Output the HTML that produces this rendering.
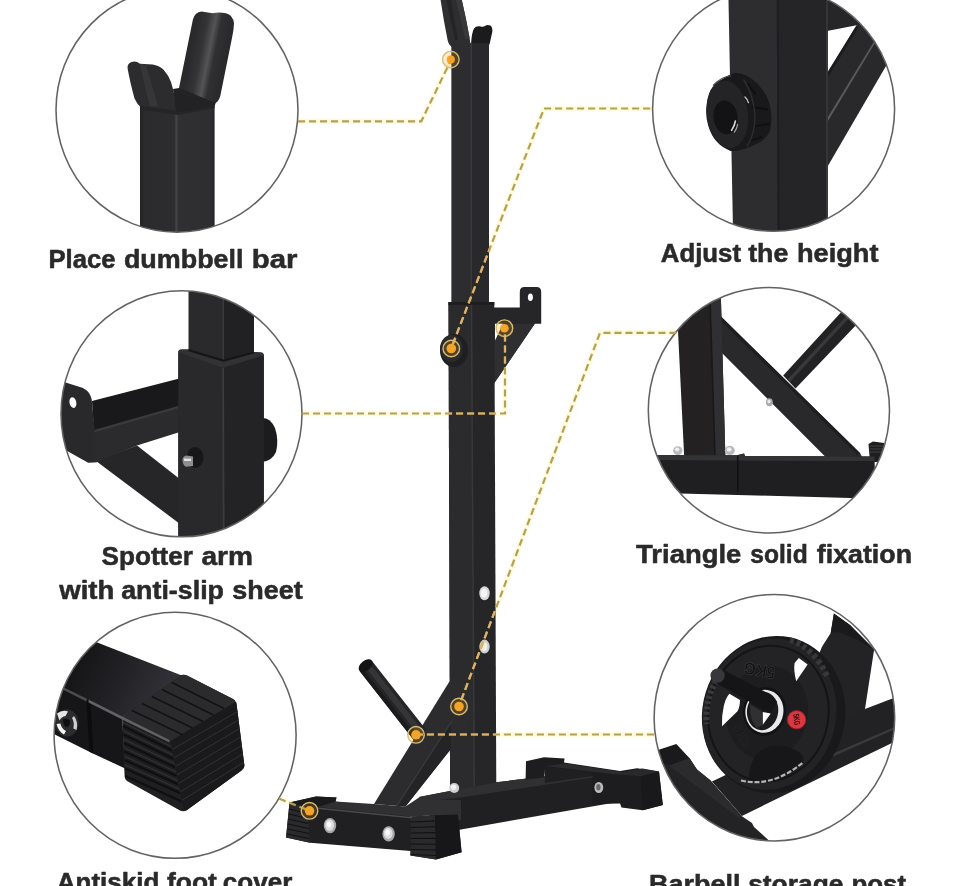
<!DOCTYPE html>
<html lang="en">
<head>
<meta charset="utf-8">
<title>Squat rack features</title>
<style>
html,body{margin:0;padding:0;background:#fff;}
html{width:960px;height:886px;overflow:hidden;}
body{width:960px;height:886px;overflow:hidden;font-family:"Liberation Sans",sans-serif;}
#stage{position:relative;width:960px;height:886px;overflow:hidden;background:#fff;}
svg{position:absolute;left:-20px;top:-20px;display:block;filter:blur(0.6px);}
.lbl{font-family:"Liberation Sans",sans-serif;font-weight:bold;font-size:26.5px;fill:#2a2a2a;stroke:#2a2a2a;stroke-width:0.55;stroke-linejoin:round;}
.ring{fill:none;stroke:#626262;stroke-width:1.55;}
.dash{fill:none;stroke:#b3a056;stroke-width:2.2;stroke-dasharray:7.1 3.9;}
.glow{fill:none;stroke:#fffbe0;stroke-width:5.5;mix-blend-mode:multiply;}
</style>
</head>
<body>
<div id="stage">
<svg width="1000" height="926" viewBox="-20 -20 1000 926">
<defs>
<clipPath id="c1"><ellipse cx="177" cy="110" rx="121" ry="122.2"/></clipPath>
<clipPath id="c2"><ellipse cx="773.6" cy="109" rx="121" ry="122.3"/></clipPath>
<clipPath id="c3"><ellipse cx="181.5" cy="413.8" rx="120.5" ry="123"/></clipPath>
<clipPath id="c4"><ellipse cx="768.9" cy="410.2" rx="120.6" ry="122.8"/></clipPath>
<clipPath id="c5"><ellipse cx="175.1" cy="735.3" rx="121" ry="123"/></clipPath>
<clipPath id="c6"><ellipse cx="774.4" cy="717.7" rx="120.3" ry="123.2"/></clipPath>
<clipPath id="darkclip"><rect x="451.6" y="43.5" width="37.4" height="260"/><path d="M448.5 302 L494.3 302 L496.3 792 L450.1 792 Z"/><path d="M374 804 L449.4 681.5 L473 683.5 L473 715 L450.2 749.5 L405.5 806.5 Z"/><path d="M494 323.8 H534.8 L494 383.5 Z"/><ellipse cx="454" cy="350.5" rx="14" ry="16.5"/></clipPath>
</defs>
<rect x="-20" y="-20" width="1000" height="926" fill="#fff"/>

<!-- ================= CENTER RACK ================= -->
<g id="rack">
<!-- top hooks -->
<path d="M438.4 -15 L458.6 -15 L461.8 0 Q466 18 469.6 38 L470.5 44 L452 47 Q448.5 45 447.6 40 Q443.5 20 440.6 0 L438.4 -15 Z" fill="#2e2e30"/>
<path d="M444.3 -15 L448.8 -15 L451 0 Q454 20 458 39 L455.5 41 Q450 20 446.5 0 Z" fill="#242426"/>
<path d="M453 -15 L458.6 -15 L461.8 0 Q466 18 469.6 38 L465 39.5 Q460.5 18 456 0 Z" fill="#38383a"/>
<path d="M471 45 Q471.5 33 474 28.5 Q476 25.6 480 26.3 Q483 27.5 485 26 Q487.5 24 490.3 25.6 Q492.8 27.5 492.3 32 L489.6 44 L488.5 46 Z" fill="#1b1b1d"/>
<!-- upper post -->
<rect x="451.6" y="43.5" width="37.4" height="260" fill="#2a2a2d"/>
<rect x="451.6" y="43.5" width="19.6" height="260" fill="#2d2d30"/>
<rect x="470.6" y="43.5" width="1.6" height="260" fill="#3b3b3e"/>
<rect x="472.2" y="43.5" width="16.8" height="260" fill="#29292c"/>
<!-- spotter arm (side) -->
<path d="M519.8 308 V292 Q519.8 287 524.5 287 H536.5 Q541.2 287 541.2 292 V323.8 H534.8 L494 383.5 V307.4 H519.8 Z" fill="#262628"/>
<path d="M494 323.8 H534.8 L494 383.5 Z" fill="#2f2f31"/>
<path d="M495 323.8 H503 L495 340.5 Z" fill="#fff"/>
<ellipse cx="530.4" cy="297.2" rx="2.5" ry="3.8" fill="#fff"/>
<!-- lower post / sleeve -->
<path d="M448.5 302 L494.3 302 L496.3 792 L450.1 792 Z" fill="#262629"/>
<path d="M448.5 302 L471.4 302 L474.2 792 L450.1 792 Z" fill="#2b2b2e"/>
<path d="M470.7 302 L472.2 302 L475 792 L473.5 792 Z" fill="#38383b"/>
<path d="M448.5 302 L494.3 302 L494.3 305 L448.5 305 Z" fill="#1e1e20"/>
<!-- knob -->
<ellipse cx="454" cy="350.5" rx="14" ry="16.5" fill="#1f1f21"/>
<ellipse cx="451.5" cy="348.5" rx="11.5" ry="13.5" fill="#2a2a2c"/>
<!-- post bolts -->
<ellipse cx="484.5" cy="593.2" rx="5.2" ry="7" fill="#d8d8d8"/>
<ellipse cx="484" cy="593.2" rx="3.2" ry="4.6" fill="#f4f4f4"/>
<ellipse cx="484.5" cy="646.6" rx="5.2" ry="7" fill="#d0d0d0"/>
<ellipse cx="484" cy="646.6" rx="3.2" ry="4.6" fill="#f0f0f0"/>
<!-- long base bar -->
<path d="M419 797 L450 791 L496.3 782.3 L592.5 770.6 L612 772 L612 803 L461 829.5 L440 833 Z" fill="#202022"/>
<path d="M419 797 L450 791 L496.3 782.3 L592.5 770.6 L612 771.5 L612 774.5 L461 797.5 L430 801 Z" fill="#303032"/>
<!-- back cross bar + caps -->
<path d="M543.8 765.5 L565 763.8 L620 772 L620 782 L592.5 776 L545 783 Z" fill="#1f1f21"/>
<path d="M526 761.2 L544 757.2 L564.6 758.6 L564 762.5 L620 771 L637 768.2 L659 771.5 L662.8 805 L642.8 810.2 L621.5 807.5 L620 803.5 L592.5 804 L592.5 773 L545 766.5 L543.8 777.5 L525.6 779.5 Z" fill="#1d1d1f"/>
<path d="M545 766 L565 763.6 L620 771.4 L640 776 L612 774 Z" fill="#2c2c2e"/>
<path d="M620 772.5 L642.5 768.6 L659 771.5 L640.5 776.5 Z" fill="#29292b"/>
<path d="M640.5 776.5 L659 771.5 L662.8 805 L642.8 810.2 Z" fill="#19191b"/>
<ellipse cx="598.8" cy="787.5" rx="4.4" ry="5.6" fill="#bdbdbd"/>
<ellipse cx="598.4" cy="787.2" rx="2.2" ry="3.2" fill="#6a6a6a"/>
<!-- diagonal strut -->
<path d="M374 804 L449.4 681.5 L473 683.5 L473 715 L450.2 749.5 L405.5 806.5 Z" fill="#2c2c2e"/>
<path d="M396.5 805.5 L451 722 L451 749 L405.5 806.5 Z" fill="#242426"/>
<path d="M396 805.8 L451.4 720.6 L452.2 721.8 L397.4 806 Z" fill="#3a3a3c"/>
<!-- peg -->
<path d="M359.4 670.7 L372 660.9 L426.3 730.1 L413.7 739.9 Z" fill="#252527"/>
<path d="M365 666.5 L369.5 663 L423.6 732 L419 735.5 Z" fill="#353538"/>
<path d="M359.4 670.7 L362.5 668.3 L416.8 737.5 L413.7 739.9 Z" fill="#1a1a1c"/>
<ellipse cx="365.7" cy="665.6" rx="8" ry="5" transform="rotate(-38 365.7 665.6)" fill="#141416"/>
<!-- post base bolt -->
<ellipse cx="454.2" cy="788" rx="5" ry="5" fill="#cfcfcf"/>
<ellipse cx="453.6" cy="787.2" rx="2.6" ry="2.6" fill="#f3f3f3"/>
<!-- front cross bar -->
<path d="M289.5 802.5 L316 796.5 L336.5 797.5 L335.5 801.5 L412 816.5 L435 815.2 L457.9 814.4 L461.6 852.2 L436 859.5 L410.5 855.5 L410.5 851 L310 842.8 L286 837.5 Z" fill="#202022"/>
<path d="M289.5 802.5 L316 796.5 L336.5 797.5 L335.5 801.5 L318 807 Z" fill="#1a1a1c"/>
<path d="M318 807 L335.5 801.5 L374 804 L405.5 806.5 L419 797.5 L440 800 L461 800 L461 820.5 L435 815.2 L412 816.5 Z" fill="#303032"/>
<path d="M289.5 803 L307 807.5 L310 842.8 L286 837.5 Z" fill="#2a2a2c"/>
<path d="M411 816.5 L435 815.2 L436 859.5 L410.5 855.5 Z" fill="#2a2a2c"/>
<path d="M435 815.2 L457.9 814.4 L461.6 852.2 L436 859.5 Z" fill="#171719"/>
<ellipse cx="330" cy="825.6" rx="6.2" ry="7.6" fill="#a8a8aa"/>
<ellipse cx="329.6" cy="825.2" rx="4.4" ry="5.6" fill="#dedede"/>
<ellipse cx="329" cy="824.4" rx="2.2" ry="3" fill="#fafafa"/>
<ellipse cx="388.6" cy="833.8" rx="6.2" ry="7.6" fill="#a8a8aa"/>
<ellipse cx="388.2" cy="833.4" rx="4.4" ry="5.6" fill="#dedede"/>
<ellipse cx="387.6" cy="832.6" rx="2.2" ry="3" fill="#fafafa"/>
<g stroke="#111113" stroke-width="1.1" fill="none">
<path d="M289 809 L307.4 813.5 M288.6 814 L307.8 818.5 M288.2 819 L308.2 823.5 M287.8 824 L308.6 828.5 M287.4 829 L309 833.5 M287 834 L309.4 838.5"/>
<path d="M411 822 L435.2 821 M411 827.5 L435.4 826.8 M410.9 833 L435.5 832.6 M410.8 838.5 L435.6 838.4 M410.7 844 L435.8 844.2 M410.6 849.5 L435.9 850 M410.6 854.5 L436 855.5"/>
</g>
<path d="M318 807.6 L412 817 L412 818.4 L318 809 Z" fill="#4a4a4c"/>

</g>

<!-- ================= CIRCLE 1 ================= -->
<g id="g1" clip-path="url(#c1)">
<defs>
<linearGradient id="c1post" x1="0" x2="1" y1="0" y2="0">
<stop offset="0" stop-color="#232325"/><stop offset="0.06" stop-color="#2b2b2d"/><stop offset="0.46" stop-color="#2d2d2f"/><stop offset="0.485" stop-color="#454547"/><stop offset="0.52" stop-color="#303032"/><stop offset="0.95" stop-color="#2e2e30"/><stop offset="1" stop-color="#242426"/>
</linearGradient>
<linearGradient id="c1tall" gradientUnits="userSpaceOnUse" x1="190" y1="55" x2="226" y2="62">
<stop offset="0" stop-color="#2a2a2c"/><stop offset="0.28" stop-color="#343437"/><stop offset="0.5" stop-color="#545457"/><stop offset="0.66" stop-color="#303032"/><stop offset="1" stop-color="#29292b"/>
</linearGradient>
</defs>
<!-- post -->
<rect x="140" y="100" width="74.6" height="140" fill="url(#c1post)"/>
<!-- tall prong -->
<path d="M192.9 19.5 Q195 12.2 201.5 11.6 L212.7 13.2 Q219 11.8 225.9 13.2 Q233 14.5 234 23.5 Q233.8 30 232 38 L220.4 95.5 Q219 101 215.7 103 L178.6 110.8 L179 88 Z" fill="url(#c1tall)"/>
<!-- short prong -->
<path d="M127.6 68.5 Q127 63.5 131.5 62 Q136.5 60.6 139.8 63.8 L152.6 64.6 Q159 65.5 163.6 69.8 Q168.6 75.5 171 82 Q173.6 90 175 99 L176.4 110.5 L141 107.6 Q137 104 134.5 98.5 Q130 82 127.6 68.5 Z" fill="#2c2c2e"/>
<path d="M139.8 63.8 L146 65 Q152 85 158 106 L150 106.5 Q144 84 139.8 63.8 Z" fill="#363638"/>
<!-- saddle shadows -->
<path d="M173 89 L179 88 L215.7 103 L214.6 106 L178 112.5 L176 110.5 Z" fill="#222224"/>
<path d="M140 106 L176 110.5 L178 112.5 L214.6 105 L214.6 108 L178 115 L140 109.5 Z" fill="#252527"/>

</g>
<ellipse class="ring" cx="177" cy="110" rx="121" ry="122.2"/>

<!-- ================= CIRCLE 2 ================= -->
<g id="g2" clip-path="url(#c2)">
<!-- top bar + diagonal braces -->
<path d="M826 -5 H900 V45 L856.6 25.3 L827 31 Z" fill="#262628"/>
<path d="M856.6 25.3 L900 25 L900 42 L827 167.5 L827 74 Z" fill="#29292b"/>
<path d="M873.8 41.8 L875 43 L828 121 L827 118.5 Z" fill="#5a5a5c"/>
<path d="M856.6 25.3 L858.5 27.5 L828 77 L827 73 Z" fill="#1c1c1e"/>
<!-- post -->
<path d="M728.4 -5 L827.6 -5 L827.6 240 L733.2 240 Z" fill="#2d2d2f"/>
<path d="M777.6 -5 L827.6 -5 L827.6 240 L778.6 240 Z" fill="#252528"/>
<path d="M776.8 -5 L778.6 -5 L779.4 240 L777.6 240 Z" fill="#1d1d20"/>
<path d="M826.2 -5 L827.8 -5 L827.8 240 L826.2 240 Z" fill="#3a3a3c"/>
<!-- knob -->
<path d="M734.7 73 Q741 72.6 746.9 75.7 Q753 79 757.7 83.9 Q763.5 90 767.2 97.4 Q770.8 105.5 771.3 115 Q771.8 124 769.9 131.3 Q766.5 138 760.4 142.1 Q753 146.5 744.2 148.9 Q737 151.6 730.6 150.9 Q722.5 148 717.1 142.1 Q711 135 708.3 125.9 Q705.6 117 706.3 108.2 Q707 98 710.3 90.6 Q715 82.6 722.5 79.1 Q728.5 74.5 734.7 73 Z" fill="#19191b"/>
<ellipse cx="727.4" cy="114.4" rx="20.6" ry="34" transform="rotate(-7 727.4 114.4)" fill="#242426"/>
<ellipse cx="725.6" cy="117.4" rx="12" ry="17" transform="rotate(-7 725.6 117.4)" fill="#131315"/>
<path d="M731.6 130.4 Q734.6 126 735.4 121" fill="none" stroke="#d8d8d8" stroke-width="1.6" stroke-linecap="round"/>
<path d="M734.4 132.2 Q737 128.4 737.6 124.4" fill="none" stroke="#a0a0a2" stroke-width="1.2" stroke-linecap="round"/>
<path d="M745 97 Q747.6 99.4 748.4 102.6" fill="none" stroke="#bdbdbf" stroke-width="1.4" stroke-linecap="round"/>
<path d="M713 85.5 Q721 77 731 75.6" fill="none" stroke="#4c4c4e" stroke-width="1.2"/>
<path d="M747 83 L756 95 M751.5 107 L768 109.5 M753.6 126.5 L769.5 123.5 M749.5 141 L762 137" stroke="#0f0f11" stroke-width="1.8" fill="none"/>
<path d="M743.5 79.5 Q753.5 94 755 116 Q755 134 747 146.5" fill="none" stroke="#2e2e30" stroke-width="1.4"/>

</g>
<ellipse class="ring" cx="773.6" cy="109" rx="121" ry="122.3"/>

<!-- ================= CIRCLE 3 ================= -->
<g id="g3" clip-path="url(#c3)">
<!-- knob behind sleeve (right) -->
<path d="M262 418 Q270 417 275 428 Q279 440 276 452 Q272 461 262 462 Z" fill="#1c1c1e"/>
<!-- gusset strut -->
<path d="M96 461 L137 445.6 L178.8 478.2 L180 524 L100 464 Z" fill="#262628"/>
<!-- arm: inner channel (dark) -->
<path d="M92 400.9 L179.4 378.4 L215 396 L94 431 Z" fill="#19191b"/>
<!-- arm: front face -->
<path d="M93 430.8 L215 396 L215 424 L179 432.3 L137 445.6 L96 462.6 L93 462 Z" fill="#2b2b2d"/>
<path d="M93 430.2 L215 395.4 L215 397.8 L93 432.8 Z" fill="#3a3a3c"/>
<!-- end plate -->
<path d="M58 380 L63.2 381.8 L82.3 387.7 Q90 391 91.6 399 L94.4 426 L94.4 462.6 L88.2 462.8 L60 447 Z" fill="#29292b"/>
<ellipse cx="72.9" cy="402.6" rx="3.4" ry="5.4" transform="rotate(-12 72.9 402.6)" fill="#fff"/>
<!-- sleeve -->
<path d="M178.3 352.5 Q178.3 349.6 181.2 349.6 L189 349.6 L223.4 360 L254 352 L261 352.4 Q263.8 352.6 263.8 355.5 L263.8 545 L178.3 545 Z" fill="#262628"/>
<path d="M178.3 352.5 Q178.3 349.6 181.2 349.6 L189 349.6 L223.4 360 L254 352 L261 352.4 Q263.8 352.6 263.8 355.5 L223.1 368 Z" fill="#323234"/>
<path d="M178.3 352.8 L223.1 368 L223.1 545 L178.3 545 Z" fill="#29292b"/>
<path d="M223.1 368 L263.8 355.5 L263.8 545 L223.1 545 Z" fill="#232325"/>
<path d="M222.2 368 L224 368 L224.6 545 L222.8 545 Z" fill="#3c3c3e"/>
<!-- upper post -->
<path d="M188.5 285 L254 285 L254 352.4 L223.4 360.6 L188.5 350 Z" fill="#2a2a2c"/>
<path d="M223.4 285 L254 285 L254 352.4 L223.4 360.6 Z" fill="#212123"/>
<path d="M222.4 285 L224 285 L224 360.4 L222.4 360 Z" fill="#39393b"/>
<path d="M188.5 349 L223.4 359.6 L254 351.4 L254 353.4 L223.4 361.8 L188.5 351.2 Z" fill="#151517"/>
<!-- white triangle hole is simply background; cover sleeve overlap -->
<!-- bolt -->
<ellipse cx="195" cy="457.5" rx="8.4" ry="10.6" fill="#171719"/>
<path d="M182.5 459.5 Q183 456 186.5 455.6 L193 456.4 L193 466 L186 466.8 Q182.4 465 182.5 459.5 Z" fill="#8f8f91"/>
<path d="M184 458.4 L191 458.8 L191 461 L184 461 Z" fill="#e3e3e3"/>

</g>
<ellipse class="ring" cx="181.5" cy="413.8" rx="120.5" ry="123"/>

<!-- ================= CIRCLE 4 ================= -->
<g id="g4" clip-path="url(#c4)">
<!-- peg going upper right -->
<path d="M783.2 375.4 L845 308 L858.5 322.5 L795.5 388.6 Z" fill="#222224"/>
<path d="M787.5 379.5 L849 313 L851.5 315.5 L790 382 Z" fill="#38383a"/>
<!-- foot cap right -->
<path d="M868.5 444 L873 441.5 L884 443 L886 462 L870 462 Z" fill="#1e1e20"/>
<path d="M870 446 H884 M870 449 H884.5 M870 452 H885" stroke="#4a4a4c" stroke-width="0.8"/>
<!-- diagonal strut -->
<path d="M706 296 L713.6 309.3 L860.2 453.2 L862.6 458 L826.6 458 L718 349 L706 345 Z" fill="#29292b"/>
<path d="M713.6 309.3 L860.2 453.2 L857.6 455 L711.8 312 Z" fill="#1e1e20"/>
<!-- post -->
<path d="M675.5 280 L720.4 280 L725.4 457 L684.2 457 Z" fill="#242122"/>
<path d="M709.6 280 L720.4 280 L725.4 457 L715.2 457 Z" fill="#303032"/>
<path d="M708.6 280 L710.2 280 L715.8 457 L714.2 457 Z" fill="#19191b"/>
<!-- bolts -->
<ellipse cx="677.8" cy="450.6" rx="4.6" ry="4.4" fill="#b9b9bb"/>
<ellipse cx="677.2" cy="449.6" rx="2.2" ry="2" fill="#f0f0f0"/>
<ellipse cx="729.8" cy="450.4" rx="5" ry="4.6" fill="#b9b9bb"/>
<ellipse cx="729.2" cy="449.4" rx="2.4" ry="2.2" fill="#f0f0f0"/>
<ellipse cx="769.4" cy="402.2" rx="3.4" ry="4" fill="#a9a9ab"/>
<ellipse cx="769" cy="401.6" rx="1.6" ry="2" fill="#e8e8e8"/>
<!-- base bar -->
<path d="M640 455 L737 455.2 L744 453.4 L745 456 L874.5 456.5 L875.5 497.5 L851 498 L680 493.5 L640 493 Z" fill="#1f1f21"/>
<path d="M640 455 L737 455.2 L744 453.4 L745 456 L874.5 456.5 L874.6 461 L737 460.6 L640 460 Z" fill="#333335"/>
<path d="M737 455.2 L738.4 455.2 L738.4 492 L737 492 Z" fill="#111113"/>

</g>
<ellipse class="ring" cx="768.9" cy="410.2" rx="120.6" ry="122.8"/>

<!-- ================= CIRCLE 5 ================= -->
<g id="g5" clip-path="url(#c5)">
<defs>
<linearGradient id="c5top" gradientUnits="userSpaceOnUse" x1="80" y1="660" x2="170" y2="705">
<stop offset="0" stop-color="#161618"/><stop offset="0.5" stop-color="#242428"/><stop offset="1" stop-color="#33333a"/>
</linearGradient>
</defs>
<!-- bar top face -->
<path d="M40 640 L97.2 642.6 L183.8 676.3 L122.2 717.4 L57.6 685.1 L40 690 Z" fill="url(#c5top)"/>
<!-- bar front face -->
<path d="M40 676 L57.6 685.1 L122.2 717.4 L125.1 768.5 L92.9 753.4 L56.8 735.4 L40 727 Z" fill="#161618"/>
<path d="M86.5 699 L90.5 701 L93.4 753.6 L89.4 751.8 Z" fill="#0c0c0e"/>
<path d="M40 676 L57.6 684.4 L86.5 698.6 L86.5 701.4 L57.6 687 L40 679 Z" fill="#4c4c4e"/>
<!-- bolt -->
<ellipse cx="67" cy="723" rx="11.6" ry="13.6" fill="#2c2c2e"/>
<path d="M57 713.5 Q62 709.6 68 711.4 L65.5 716 Q61.5 716.5 59.5 720.5 Z" fill="#e6e6e6"/>
<path d="M74 716 Q78.4 722 76.6 730 L73.4 728.4 Q74.6 722 72 718 Z" fill="#cfcfcf"/>
<path d="M56.6 724 Q58 731 64 734.6 L66 731 Q61.5 728.6 60.4 723.4 Z" fill="#f4f4f4"/>
<path d="M63 719.5 Q67 717.6 70 720.6 Q70.6 725 67 727.6 Q63 726 63 719.5 Z" fill="#0e0e10"/>
<!-- cap -->
<path d="M122.2 717.4 L181 675.2 Q183.8 674 187 675.6 L233 699 Q236.4 701 236.6 704.5 L244.4 765.5 Q244.6 768.5 241.5 770.5 L187 810 Q183.5 812.3 180 810.5 L127 781 Q124.8 779.5 124.6 776.5 Z" fill="#1f1f21"/>
<path d="M122.2 717.4 L181 675.2 Q183.8 674 187 675.6 L233 699 Q236.4 701 234 703.5 L172 741.5 Q170.4 742 168.5 741 Z" fill="#2b2b2d"/>
<path d="M170.6 740.9 L234.6 702.4 Q236.4 701.5 236.6 704.5 L244.4 765.5 Q244.6 768.5 241.5 770.5 L187 810 Q184.5 811.5 183.6 809 Z" fill="#1a1a1c"/>
<!-- ribs: top face -->
<g stroke="#121214" stroke-width="1.5" fill="none">
<path d="M132 710.5 L182 734.5 M142 703.5 L192.5 728 M152 696.5 L203 721.5 M162 689.5 L213.5 715 M172 682.5 L224 708.5"/>
</g>
<!-- ribs: left face -->
<g stroke="#0f0f11" stroke-width="2.2" fill="none">
<path d="M123 726 L172 750.5 M123.4 734.5 L173.6 759 M123.8 743 L175.2 767.5 M124.2 751.5 L176.8 776 M124.6 760 L178.4 784.5 M125 768.5 L180 793 M125.4 776 L181.6 801.5"/>
</g>
<g stroke="#38383a" stroke-width="0.9" fill="none">
<path d="M123 722.4 L171.4 746.6 M123.4 730.8 L173 755 M123.8 739.3 L174.6 763.6 M124.2 747.8 L176.2 772 M124.6 756.3 L177.8 780.6 M125 764.8 L179.4 789"/>
</g>
<!-- ribs: right face -->
<g stroke="#333335" stroke-width="1" fill="none">
<path d="M172 749.5 L237.6 711.5 M173.6 758 L238.6 720 M175.2 766.5 L239.6 728.5 M176.8 775 L240.6 737 M178.4 783.5 L241.6 745.5 M180 792 L242.6 754 M181.6 800.5 L243.6 762.5"/>
</g>
<path d="M88.5 699.6 L122.2 716.6 L169.5 740 L169.5 742.6 L122.2 719.4 L88.5 702.4 Z" fill="#626264"/>

</g>
<ellipse class="ring" cx="175.1" cy="735.3" rx="121" ry="123"/>

<!-- ================= CIRCLE 6 ================= -->
<g id="g6" clip-path="url(#c6)">
<!-- frame behind: upright -->
<path d="M833.9 613.6 L850 625 L874.2 649 L865 709 L850 760 L800 700 L822 646.8 L830.7 632.9 Z" fill="#232325"/>
<path d="M833.9 613.6 L850 625 L873.6 650 L858 640 L838 632 L830.7 632.9 Z" fill="#1a1a1c"/>
<!-- long bar (to upper right) -->
<path d="M865 708.9 L900 695.5 L900 739 L741.9 815.9 L711.9 781.6 Z" fill="#222224"/>
<path d="M800 768 L900 724.5 L900 727 L800 771 Z" fill="#3a3a3c"/>
<!-- front bar (upper-left to lower-right) -->
<path d="M650 752 L658.4 750.6 L689.4 758.1 L697 769.5 L710 780 L741.9 816.3 L752 823 L754 827 L768.1 839.7 L775 850 L700 850 L650 790 Z" fill="#232325"/>
<path d="M689.4 758.1 L697 769.5 L710 780 L741.9 816.3 L739 818 L668.8 765.6 Z" fill="#2b2b2d"/>
<!-- foot cap -->
<path d="M655 751 L676.3 744.1 L689.4 758.1 L668.8 765.6 L661 761 Z" fill="#1a1a1c"/>
<!-- plate rim + face -->
<ellipse cx="773.6" cy="714.6" rx="71.4" ry="79" transform="rotate(12 773.6 714.6)" fill="#19191b"/>
<ellipse cx="769.4" cy="714.2" rx="66.6" ry="76" transform="rotate(12 769.4 714.2)" fill="#232325"/>
<ellipse cx="768.4" cy="713.6" rx="60" ry="68" transform="rotate(10 768.4 713.6)" fill="none" stroke="#141416" stroke-width="2"/>
<ellipse cx="767" cy="712.6" rx="41" ry="47" transform="rotate(10 767 712.6)" fill="#1d1d1f"/>
<!-- grip rim highlights -->
<path d="M716 681 Q705 700 706.5 724" fill="none" stroke="#3a3a3c" stroke-width="6" stroke-dasharray="3 2.4"/>
<path d="M790 640 Q815 648 828 678" fill="none" stroke="#38383a" stroke-width="6" stroke-dasharray="4 3"/>
<!-- grip holes -->
<path d="M729.4 693.8 L740 700 Q740 707 737.5 711.3 L722 726.2 Q721.5 716 723.8 706 Q725.6 698 729.4 693.8 Z" fill="#fff"/>
<path d="M798.8 658 L807.6 664.4 L796.2 681.3 Q793.4 670 794.6 663 Z" fill="#fff"/>
<!-- centre ring -->
<ellipse cx="764.6" cy="711.4" rx="21.6" ry="24.4" transform="rotate(8 764.6 711.4)" fill="#121214"/>
<ellipse cx="764.4" cy="711.3" rx="19" ry="21.6" transform="rotate(8 764.4 711.3)" fill="#e9e9eb"/>
<ellipse cx="762.6" cy="711" rx="15.6" ry="19.2" transform="rotate(8 762.6 711)" fill="#1b1b1d"/>
<path d="M762.6 712 L770.8 713.6 L762.6 725 Z" fill="#fff"/>
<path d="M750 704 L762.6 712 L762.6 725 L757 728 Q749 720 750 704 Z" fill="#303032"/>
<!-- peg -->
<path d="M715.2 682.6 L722.4 669.4 L766.5 692.4 L777 701.5 L770.5 713.4 Z" fill="#151517"/>
<circle cx="717.6" cy="675.6" r="7.2" fill="#38383a"/>
<!-- silver arc + bottom hole -->
<path d="M749 775 Q751 753 768 747 Q786 743 800 753 Q806 758 802 765 Q782 784 756 781 Q749 780 749 775 Z" fill="#171719"/>
<path d="M741 780.5 Q772 788 803 762.5" fill="none" stroke="#b4b4b6" stroke-width="2.2" stroke-dasharray="5 1.8"/>
<!-- embossed text -->
<text x="0" y="0" transform="translate(776 667.5) rotate(190) scale(0.9 1)" font-family="'Liberation Sans',sans-serif" font-weight="bold" font-size="17" fill="#121214" stroke="#414143" stroke-width="0.5">5KG</text>
<text x="0" y="0" transform="translate(733 727) rotate(62)" font-family="'Liberation Sans',sans-serif" font-weight="bold" font-size="12" fill="#19191b" stroke="#343436" stroke-width="0.3">5KG</text>
<!-- red badge -->
<circle cx="796.6" cy="719.8" r="9.2" fill="#d8383f"/>
<circle cx="796.6" cy="719.8" r="9.2" fill="none" stroke="#a01d28" stroke-width="1"/>
<text x="0" y="0" transform="translate(793 714.2) rotate(82)" font-family="'Liberation Sans',sans-serif" font-weight="bold" font-size="8.5" fill="#3a0d10" textLength="11.5" lengthAdjust="spacingAndGlyphs">5KG</text>

</g>
<ellipse class="ring" cx="774.4" cy="717.7" rx="120.3" ry="123.2"/>

<!-- ================= CALLOUT LINES ================= -->
<g id="lines">
<path class="glow" d="M298 121.3 H421.3 L451 60"/>
<path class="glow" d="M652.5 108.5 H544 L451.3 348"/>
<path class="glow" d="M302 413.5 H505 V329"/>
<path class="glow" d="M676.5 332.8 H600 L459 706"/>
<path class="glow" d="M654 734.5 H416"/>
<path class="glow" d="M279 798.5 L310 811"/>
<path class="dash" d="M298 121.3 H421.3 L451 60"/>
<path class="dash" stroke-dashoffset="8.7" d="M652.5 108.5 H544 L451.3 348"/>
<path class="dash" d="M302 413.5 H505 V329"/>
<path class="dash" d="M676.5 332.8 H600 L459 706"/>
<path class="dash" d="M654 734.5 H416"/>
<path class="dash" d="M279 798.5 L310 811"/>
</g>
<g clip-path="url(#darkclip)" style="stroke:#d8b074">
<path class="dash" style="stroke:#deb06c" d="M298 121.3 H421.3 L451 60"/>
<path class="dash" style="stroke:#deb06c" stroke-dashoffset="8.7" d="M652.5 108.5 H544 L451.3 348"/>
<path class="dash" style="stroke:#deb06c" d="M302 413.5 H505 V329"/>
<path class="dash" style="stroke:#deb06c" d="M676.5 332.8 H600 L459 706"/>
<path class="dash" style="stroke:#deb06c" d="M654 734.5 H416"/>
<path class="dash" style="stroke:#deb06c" d="M279 798.5 L310 811"/>
</g>
<g id="dots">
<g fill="rgba(241,160,10,0.2)" stroke="#d6bc74" stroke-width="1.4">
<circle cx="450.8" cy="59.5" r="8.3"/>
<circle cx="451.3" cy="348.5" r="8.3"/>
<circle cx="504.4" cy="328.2" r="8.3"/>
<circle cx="459" cy="706.5" r="8.3"/>
<circle cx="416" cy="734.8" r="8.3"/>
<circle cx="309.5" cy="810.8" r="8.3"/>
</g>
<g fill="#f4a428">
<circle cx="450.8" cy="59.5" r="4.1"/>
<circle cx="451.3" cy="348.5" r="4.8"/>
<circle cx="504.4" cy="328.2" r="4.3"/>
<circle cx="459" cy="706.5" r="4.8"/>
<circle cx="416" cy="734.8" r="4.8"/>
<circle cx="309.5" cy="810.8" r="4.8"/>
</g>

</g>

<!-- ================= LABELS ================= -->
<g id="labels">
<text class="lbl" y="268.2"><tspan x="48.5" textLength="67.0" lengthAdjust="spacingAndGlyphs">Place</tspan> <tspan x="123.9" textLength="119.6" lengthAdjust="spacingAndGlyphs">dumbbell</tspan> <tspan x="251.8" textLength="45.7" lengthAdjust="spacingAndGlyphs">bar</tspan></text>
<text class="lbl" y="262.0"><tspan x="660.8" textLength="80.2" lengthAdjust="spacingAndGlyphs">Adjust</tspan> <tspan x="748.2" textLength="40.2" lengthAdjust="spacingAndGlyphs">the</tspan> <tspan x="797.0" textLength="81.5" lengthAdjust="spacingAndGlyphs">height</tspan></text>
<text class="lbl" y="565.0"><tspan x="101.5" textLength="91.5" lengthAdjust="spacingAndGlyphs">Spotter</tspan> <tspan x="201.4" textLength="51.5" lengthAdjust="spacingAndGlyphs">arm</tspan></text>
<text class="lbl" y="599.1"><tspan x="59.3" textLength="55.0" lengthAdjust="spacingAndGlyphs">with</tspan> <tspan x="121.2" textLength="102.8" lengthAdjust="spacingAndGlyphs">anti-slip</tspan> <tspan x="232.3" textLength="70.4" lengthAdjust="spacingAndGlyphs">sheet</tspan></text>
<text class="lbl" y="563.2"><tspan x="636.1" textLength="105.2" lengthAdjust="spacingAndGlyphs">Triangle</tspan> <tspan x="750.3" textLength="57.4" lengthAdjust="spacingAndGlyphs">solid</tspan> <tspan x="816.8" textLength="95.2" lengthAdjust="spacingAndGlyphs">fixation</tspan></text>
<text class="lbl" y="891.0"><tspan x="56.7" textLength="102.7" lengthAdjust="spacingAndGlyphs">Antiskid</tspan> <tspan x="167.0" textLength="49.8" lengthAdjust="spacingAndGlyphs">foot</tspan> <tspan x="222.8" textLength="69.5" lengthAdjust="spacingAndGlyphs">cover</tspan></text>
<text class="lbl" y="893.2"><tspan x="648.9" textLength="91.5" lengthAdjust="spacingAndGlyphs">Barbell</tspan> <tspan x="748.2" textLength="95.2" lengthAdjust="spacingAndGlyphs">storage</tspan> <tspan x="851.4" textLength="54.6" lengthAdjust="spacingAndGlyphs">post</tspan></text>
</g>
</svg>
</div>
</body>
</html>
